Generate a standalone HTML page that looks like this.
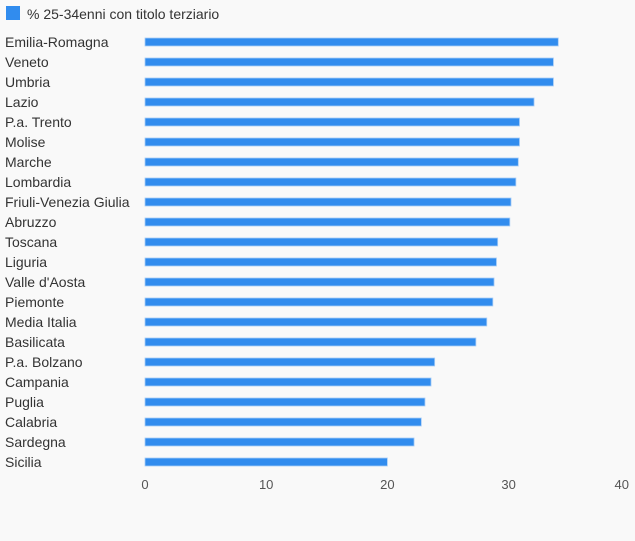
<!DOCTYPE html>
<html><head><meta charset="utf-8"><style>
body{margin:0;background:#f9f9f9;font-family:"Liberation Sans",sans-serif;}
svg{display:block}
</style></head><body>
<svg width="635" height="541">
<rect x="0" y="0" width="635" height="541" fill="#f9f9f9"/>
<g>
<rect x="6" y="6" width="14" height="14" fill="#318cee"/>
<text x="27" y="19" font-size="14" fill="#333">% 25-34enni con titolo terziario</text>
</g>
<g id="bars"></g>
</svg>
<script>
const categories=["Emilia-Romagna","Veneto","Umbria","Lazio","P.a. Trento","Molise","Marche","Lombardia","Friuli-Venezia Giulia","Abruzzo","Toscana","Liguria","Valle d'Aosta","Piemonte","Media Italia","Basilicata","P.a. Bolzano","Campania","Puglia","Calabria","Sardegna","Sicilia"];
const values=[34.1,33.7,33.7,32.1,30.9,30.9,30.8,30.6,30.2,30.1,29.1,29.0,28.8,28.7,28.2,27.3,23.9,23.6,23.1,22.8,22.2,20.0];
const ticks=[0,10,20,30,40];
const NS="http://www.w3.org/2000/svg";
const g=document.getElementById('bars');
const x=v=>145+v*12.12;
const y=i=>42+i*20;
categories.forEach((c,i)=>{
 const t=document.createElementNS(NS,'text');
 
 
 t.setAttribute('x',5);t.setAttribute('y',y(i)+5);t.setAttribute('font-size','14');t.setAttribute('fill','#333');
 t.textContent=c;g.appendChild(t);
 const r=document.createElementNS(NS,'rect');
 
 
 r.setAttribute('x',x(0));r.setAttribute('y',y(i)-4);r.setAttribute('width',x(values[i])-x(0));r.setAttribute('height',8);
 r.setAttribute('fill','#318cee');r.setAttribute('stroke','#a8cdf6');r.setAttribute('stroke-width','0.8');
 g.appendChild(r);
});
ticks.forEach((v,i)=>{
 const t=document.createElementNS(NS,'text');
 
 
 const last=i===ticks.length-1;
 t.setAttribute('x',last?629:x(v));t.setAttribute('y',489);
 t.setAttribute('text-anchor',last?'end':'middle');
 t.setAttribute('font-size','13');t.setAttribute('fill','#555');
 t.textContent=v;g.appendChild(t);
});
</script>
</body></html>
